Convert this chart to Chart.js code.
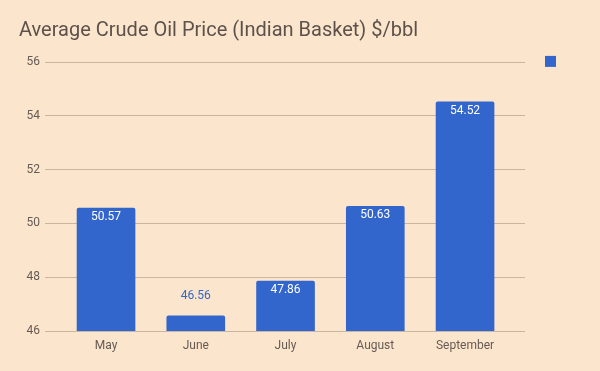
<!DOCTYPE html>
<html>
<head>
<meta charset="utf-8">
<script src="https://cdn.jsdelivr.net/npm/chart.js@4"></script>
<style>
    body { margin: 0; background: #fce5cd; }
    #wrap { width: 600px; height: 371px; }
</style>
</head>
<body>
<div id="wrap"><canvas id="oilChart"></canvas></div>
<script>
// Hónapok és átlagárak ($/bbl)
const months = ['May', 'June', 'July', 'August', 'September'];
const prices = [50.57, 46.56, 47.86, 50.63, 54.52];
const yTicks = [46, 48, 50, 52, 54, 56];

const barColor = '#3366cc';
const textColor = '#655b53';
const gridColor = '#c9b6a0';

// Értékek kiírása az oszlopokra
const valueLabels = {
    id: 'valueLabels',
    afterDatasetsDraw(chart) {
        const ctx = chart.ctx;
        const meta = chart.getDatasetMeta(0);
        const bottom = chart.chartArea.bottom;
        ctx.save();
        ctx.font = '12px Roboto';
        ctx.textAlign = 'center';
        ctx.textBaseline = 'middle';
        meta.data.forEach((bar, i) => {
            const h = bottom - bar.y;
            if (h > 25) {
                ctx.fillStyle = '#ffffff';
                ctx.fillText(prices[i].toFixed(2), bar.x, bar.y + 9);
            } else {
                // alacsony oszlop: a felirat fölé kerül
                ctx.fillStyle = barColor;
                ctx.fillText(prices[i].toFixed(2), bar.x, bar.y - 20);
            }
        });
        ctx.restore();
    }
};

new Chart(document.getElementById('oilChart'), {
    type: 'bar',
    data: {
        datasets: [{
            label: '',
            data: prices.map((p, i) => ({ x: i, y: p })),
            backgroundColor: barColor,
            borderWidth: 0,
            borderRadius: 2,
            borderSkipped: 'bottom',
            barThickness: 58
        }]
    },
    options: {
        responsive: true,
        maintainAspectRatio: false,
        animation: false,
        layout: { padding: { left: 19, right: 28, top: 0, bottom: 0 } },
        plugins: {
            title: {
                display: true,
                text: 'Average Crude Oil Price (Indian Basket) $/bbl',
                align: 'start',
                color: '#5c524b',
                font: { family: 'Roboto', size: 20, weight: 'normal' },
                padding: { top: 19, bottom: 19 }
            },
            legend: {
                position: 'right',
                align: 'start',
                title: { display: true, text: '', font: { size: 12 }, padding: { top: 21, bottom: 0 } },
                labels: { boxWidth: 11, boxHeight: 11, padding: 20, font: { family: 'Roboto', size: 12 } }
            },
            tooltip: { enabled: false }
        },
        scales: {
            x: {
                type: 'linear',
                min: -0.68,
                max: 4.668,
                offset: false,
                afterBuildTicks: axis => { axis.ticks = months.map((m, i) => ({ value: i })); },
                afterFit: axis => { axis.height = 40; },
                ticks: {
                    callback: v => months[v],
                    color: textColor,
                    font: { family: 'Roboto', size: 12 },
                    padding: 8,
                    maxRotation: 0,
                    autoSkip: false
                },
                grid: { display: false, drawTicks: false },
                border: { display: false }
            },
            y: {
                min: 46,
                max: 56,
                afterBuildTicks: axis => { axis.ticks = yTicks.map(v => ({ value: v })); },
                afterFit: axis => { axis.width = 26; },
                ticks: {
                    color: textColor,
                    font: { family: 'Roboto', size: 12 },
                    padding: 5
                },
                grid: { color: gridColor, drawTicks: false },
                border: { display: false }
            }
        }
    },
    plugins: [valueLabels]
});
</script>
</body>
</html>
